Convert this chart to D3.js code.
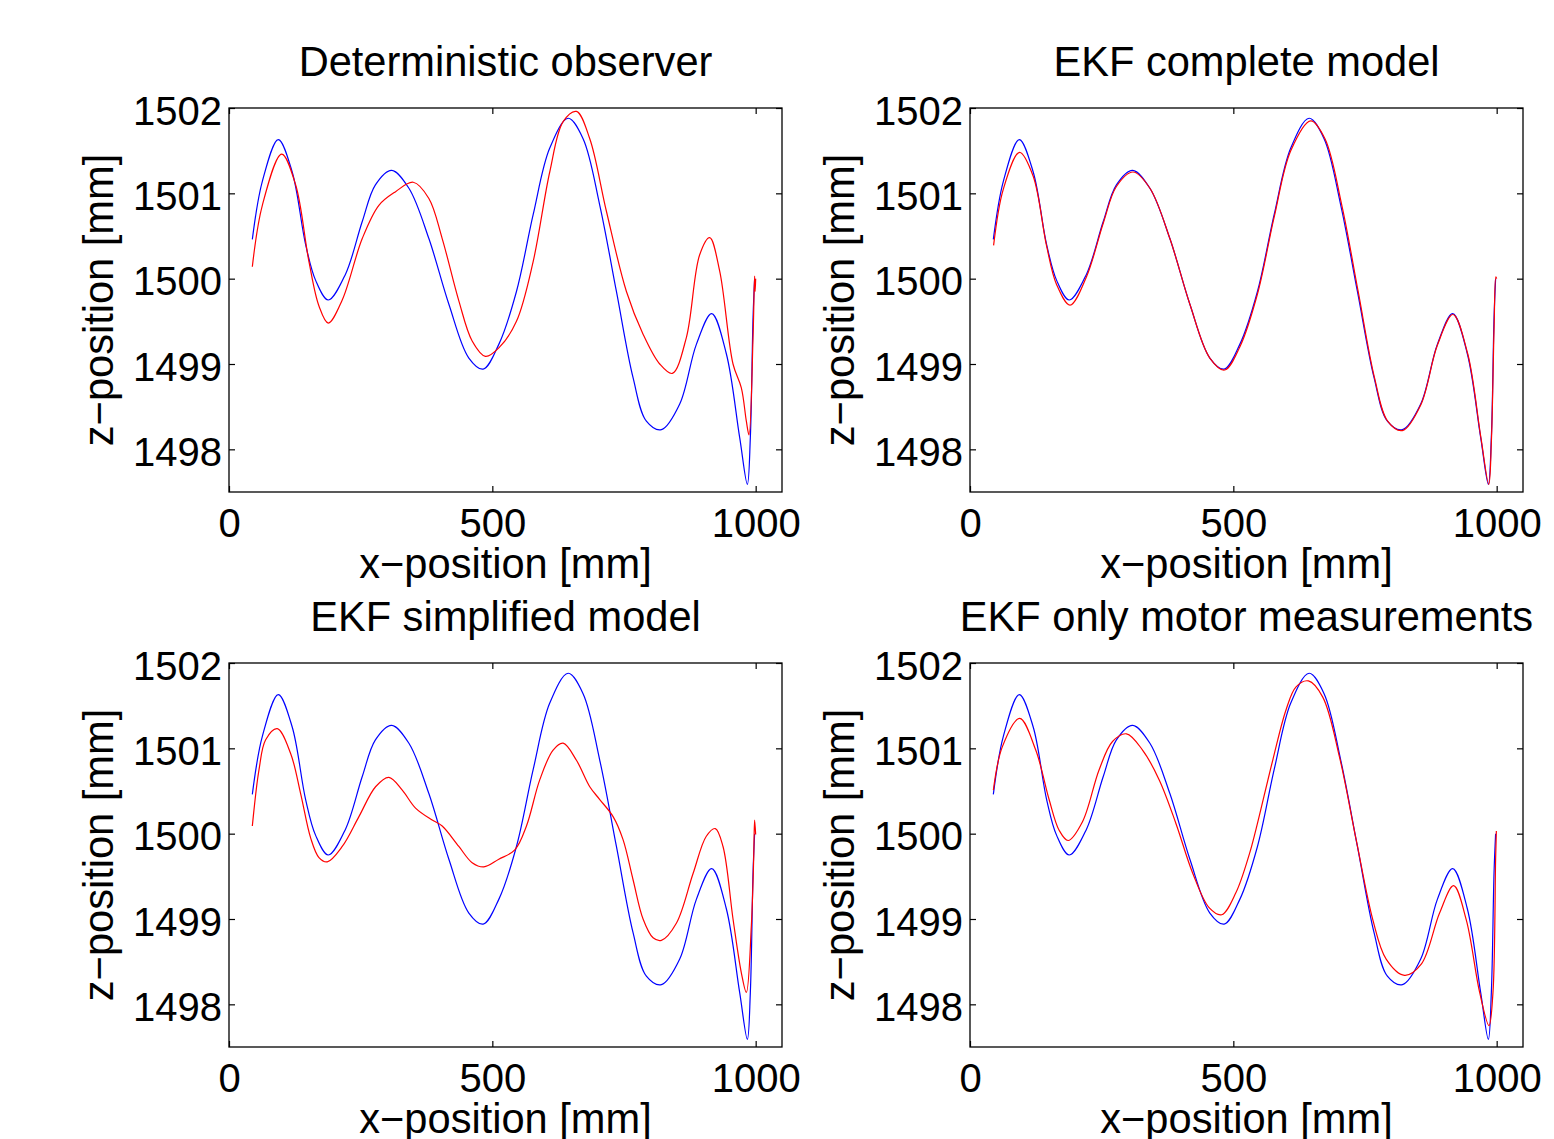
<!DOCTYPE html>
<html>
<head>
<meta charset="utf-8">
<script src="https://cdn.jsdelivr.net/npm/d3@7"></script>
<style>
  body { margin: 0; background: #fff; }
  text { font-family: "Liberation Sans", Arial, Helvetica, sans-serif; fill: #000; }
</style>
</head>
<body>
<div id="app"></div>
<script>
//reference trajectory (blue), same in all panels
const xRef = [44.3, 63.3, 93.6, 120, 145.5, 164.5, 188.5, 221, 253, 278, 308.7, 341.6, 379.5, 417.5, 455.4, 482.6, 512.3, 545.8, 577.5, 609, 643.9, 672.3, 704, 735.6, 767.2, 792.5, 821, 855.8, 887.4, 916.5, 944.3, 969.6, 984.2, 989.9, 995, 998];
const zRef = [1500.46, 1501.14, 1501.63, 1501.25, 1500.40, 1499.98, 1499.75, 1500.05, 1500.67, 1501.10, 1501.27, 1501.06, 1500.47, 1499.70, 1499.07, 1498.94, 1499.23, 1499.85, 1500.75, 1501.53, 1501.88, 1501.64, 1500.86, 1499.85, 1498.84, 1498.33, 1498.23, 1498.53, 1499.23, 1499.59, 1499.12, 1498.14, 1497.59, 1498.14, 1499.54, 1500.0];

//estimates (red)
const xDet = [44.3, 63.3, 100, 126.5, 151.8, 170.8, 188.5, 215, 253, 284.6, 316.3, 349.8, 379.5, 404.8, 436.4, 461.7, 487, 514, 545.8, 577.5, 609, 634.4, 659.7, 685, 716.6, 754.6, 786.2, 817.8, 841.8, 868.4, 893.7, 912.7, 931.6, 957, 972.8, 982.3, 987.3, 995, 998, 999, 1000];
const zDet = [1500.14, 1500.86, 1501.46, 1501.10, 1500.20, 1499.68, 1499.48, 1499.75, 1500.47, 1500.86, 1501.02, 1501.13, 1500.94, 1500.47, 1499.74, 1499.27, 1499.09, 1499.20, 1499.50, 1500.20, 1501.25, 1501.84, 1501.96, 1501.64, 1500.79, 1499.85, 1499.35, 1499.0, 1498.89, 1499.31, 1500.28, 1500.48, 1500.09, 1499.0, 1498.72, 1498.33, 1498.17, 1499.31, 1500.03, 1499.85, 1500.0];

const xEkfFull = [44.8, 63.3, 94, 120, 145.5, 164.5, 190, 221, 253, 278, 309.5, 341.6, 379.5, 417.5, 455.4, 483.5, 512.3, 545.8, 577.5, 609, 647, 674, 706, 737, 768, 793, 821, 855.8, 887.4, 917, 945, 970, 985, 990, 995, 998.5, 1000];
const zEkfFull = [1500.39, 1501.05, 1501.48, 1501.20, 1500.38, 1499.93, 1499.69, 1500.02, 1500.65, 1501.08, 1501.25, 1501.06, 1500.47, 1499.70, 1499.07, 1498.93, 1499.20, 1499.82, 1500.72, 1501.50, 1501.85, 1501.64, 1500.86, 1499.85, 1498.84, 1498.33, 1498.22, 1498.52, 1499.22, 1499.58, 1499.12, 1498.14, 1497.59, 1498.10, 1499.40, 1500.02, 1500.0];

const xEkfSimple = [44.3, 57, 69.6, 91.7, 117, 136, 155, 170.8, 186.6, 215, 246.7, 278.3, 303.6, 329, 354.2, 385.8, 404.8, 436.4, 461.7, 483.9, 512.3, 542.7, 564.8, 590, 615.4, 634.4, 659.7, 685, 704, 729.3, 748.2, 767.2, 786.2, 805.2, 821, 849.4, 881, 906.3, 923.4, 938, 957, 972.8, 982.3, 991.8, 996.2, 998, 1000];
const zEkfSimple = [1500.09, 1500.75, 1501.10, 1501.23, 1500.94, 1500.47, 1499.95, 1499.72, 1499.67, 1499.85, 1500.20, 1500.55, 1500.66, 1500.51, 1500.30, 1500.16, 1500.09, 1499.85, 1499.66, 1499.61, 1499.70, 1499.81, 1500.09, 1500.63, 1500.98, 1501.06, 1500.86, 1500.55, 1500.40, 1500.20, 1499.93, 1499.46, 1499.0, 1498.78, 1498.75, 1498.95, 1499.53, 1499.97, 1500.06, 1499.85, 1499.0, 1498.37, 1498.14, 1498.92, 1499.70, 1500.16, 1499.99];

const xEkfMotor = [44.4, 61.5, 94.4, 124.8, 150.2, 169.2, 186.3, 213.6, 245.2, 270.6, 297.2, 327.6, 359.3, 391, 422.7, 454.4, 477.8, 505, 530.4, 543, 574.8, 600, 619.1, 642.6, 669.8, 701.5, 733.2, 764.9, 790.2, 825.1, 856.8, 891.6, 918.2, 942.3, 967.7, 985.4, 993, 998, 999.4];
const zEkfMotor = [1500.51, 1501.02, 1501.35, 1500.98, 1500.40, 1500.04, 1499.92, 1500.14, 1500.75, 1501.08, 1501.17, 1500.98, 1500.63, 1500.12, 1499.54, 1499.13, 1499.05, 1499.31, 1499.76, 1500.05, 1500.86, 1501.45, 1501.72, 1501.79, 1501.60, 1500.90, 1499.93, 1498.99, 1498.53, 1498.34, 1498.47, 1499.07, 1499.39, 1498.99, 1498.14, 1497.75, 1498.14, 1499.70, 1500.03];

const titles = ["Deterministic observer", "EKF complete model", "EKF simplified model", "EKF only motor measurements"];
const xTicks = [0, 500, 1000];
const yTicks = [1498, 1499, 1500, 1501, 1502];
const xLabel = "x\u2212position [mm]";
const yLabel = "z\u2212position [mm]";

//layout
const boxW = 553;
const boxH = 384;
const panels = [
  { title: titles[0], x: xDet, z: zDet, left: 229, top: 108 },
  { title: titles[1], x: xEkfFull, z: zEkfFull, left: 970, top: 108 },
  { title: titles[2], x: xEkfSimple, z: zEkfSimple, left: 229, top: 663 },
  { title: titles[3], x: xEkfMotor, z: zEkfMotor, left: 970, top: 663 }
];

//create SVG
const svg = d3
  .select("#app")
  .append("svg")
  .attr("width", 1554)
  .attr("height", 1139);

const xScale = d3.scaleLinear().domain([0, 1050]).range([0, boxW]);
const yScale = d3.scaleLinear().domain([1497.5, 1502]).range([boxH, 0]);

const line = d3
  .line()
  .x((d) => xScale(d[0]))
  .y((d) => yScale(d[1]))
  .curve(d3.curveCatmullRom.alpha(0.5));

//draw one subplot
const drawPanel = (p) => {
  const g = svg.append("g").attr("transform", `translate(${p.left}, ${p.top})`);

  //curves
  g.append("path")
    .attr("d", line(d3.zip(xRef, zRef)))
    .style("fill", "none")
    .style("stroke", "#0000ff")
    .style("stroke-width", 1.2);
  g.append("path")
    .attr("d", line(d3.zip(p.x, p.z)))
    .style("fill", "none")
    .style("stroke", "#ff0000")
    .style("stroke-width", 1.2);

  //axes with inward ticks
  const bottom = g.append("g")
    .attr("transform", `translate(0, ${boxH})`)
    .call(d3.axisBottom(xScale).tickValues(xTicks).tickFormat(d3.format("d")).tickSizeInner(-6).tickSizeOuter(0).tickPadding(17));
  const left = g.append("g")
    .call(d3.axisLeft(yScale).tickValues(yTicks).tickFormat(d3.format("d")).tickSizeInner(-6).tickSizeOuter(0).tickPadding(7));
  g.append("g")
    .call(d3.axisTop(xScale).tickValues(xTicks).tickSizeInner(-6).tickSizeOuter(0).tickFormat(""));
  g.append("g")
    .attr("transform", `translate(${boxW}, 0)`)
    .call(d3.axisRight(yScale).tickValues(yTicks).tickSizeInner(-6).tickSizeOuter(0).tickFormat(""));

  g.selectAll(".domain").remove();
  g.selectAll(".tick line").style("stroke", "#000").style("stroke-width", 1.2);
  bottom.selectAll("text").style("font-size", "40px").attr("dy", "0.71em");
  left.selectAll("text").style("font-size", "40px").attr("dy", "0.4em");

  //box
  g.append("rect")
    .attr("width", boxW)
    .attr("height", boxH)
    .style("fill", "none")
    .style("stroke", "#000")
    .style("stroke-width", 1.3);

  //title and labels
  g.append("text")
    .attr("x", boxW / 2)
    .attr("y", -32)
    .attr("text-anchor", "middle")
    .style("font-size", "41.6px")
    .text(p.title);
  g.append("text")
    .attr("x", boxW / 2)
    .attr("y", boxH + 86)
    .attr("text-anchor", "middle")
    .style("font-size", "41.6px")
    .text(xLabel);
  g.append("text")
    .attr("transform", `translate(-116, ${boxH / 2}) rotate(-90)`)
    .attr("text-anchor", "middle")
    .style("font-size", "41.6px")
    .text(yLabel);
};

panels.forEach((p) => drawPanel(p));
</script>
</body>
</html>
